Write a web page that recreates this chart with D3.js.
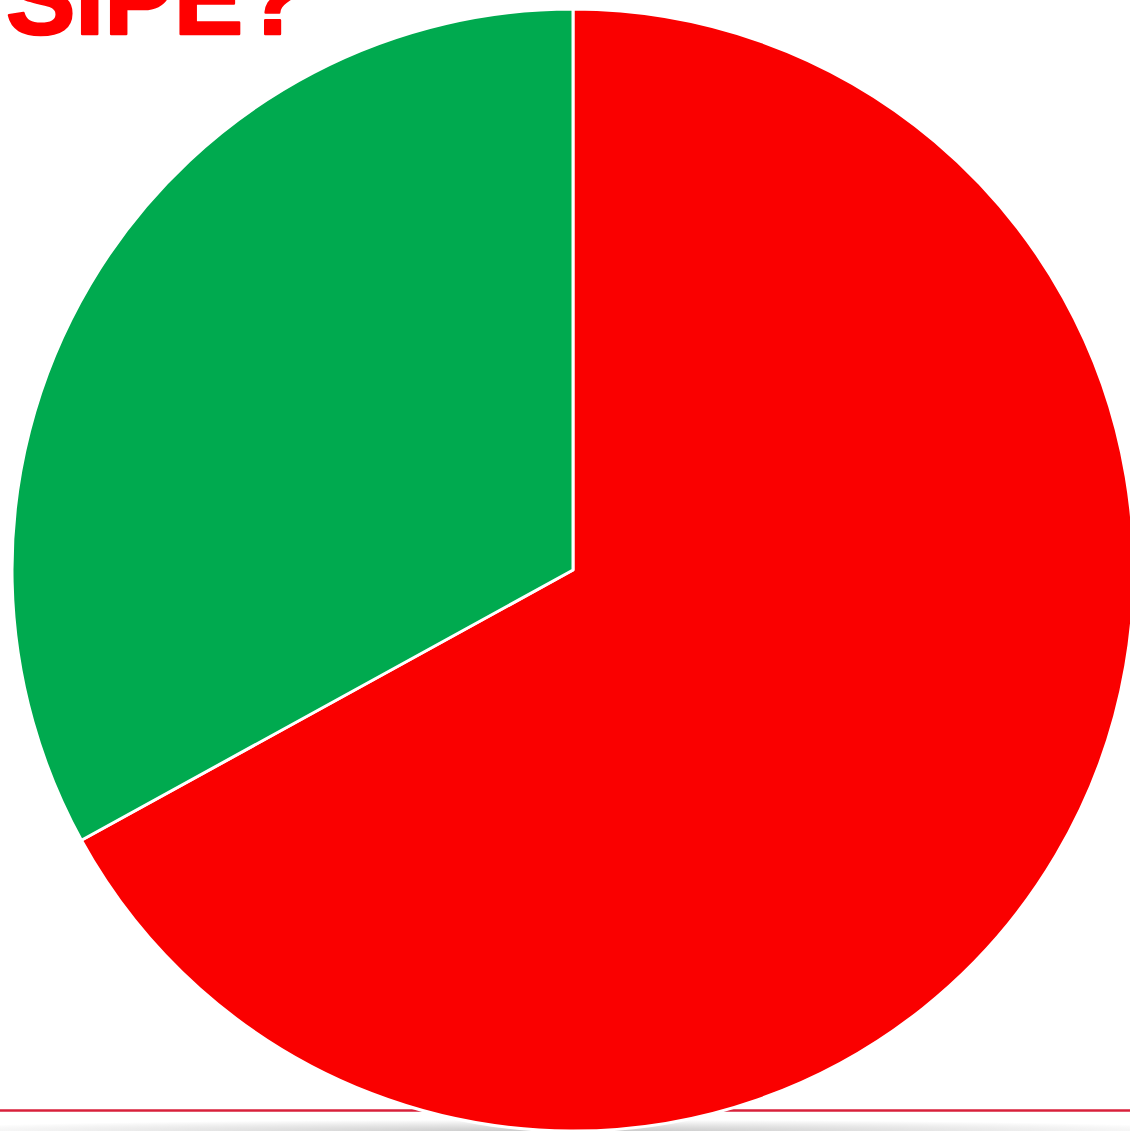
<!DOCTYPE html>
<html>
<head>
<meta charset="utf-8">
<script src="https://cdn.jsdelivr.net/npm/d3@7"></script>
<style>
  html, body { margin: 0; padding: 0; background: #fff; }
  svg { display: block; }
</style>
</head>
<body>
<div id="container"></div>
<script>
// data
const categories = ['No', 'Sí']
const values = [67, 33]
const colors = ['#fa0000', '#00aa4f']
const title = 'SIPE?'

const w = 1130
const h = 1131
const cx = 573
const cy = 570
const radius = 561

const svg = d3.select('#container')
  .append('svg')
  .attr('width', w)
  .attr('height', h)

const defs = svg.append('defs')
const grad = defs.append('radialGradient')
  .attr('id', 'shadow')
  .attr('cx', '50%').attr('cy', '100%')
  .attr('r', '60%')
grad.append('stop').attr('offset', '0%').attr('stop-color', '#c8c8c8')
grad.append('stop').attr('offset', '100%').attr('stop-color', '#ffffff')

//shadow strip under the rule
svg.append('rect')
  .attr('x', 0)
  .attr('y', 1112)
  .attr('width', w)
  .attr('height', h - 1112)
  .attr('fill', 'url(#shadow)')

//red rule
svg.append('line')
  .attr('x1', 0)
  .attr('x2', w)
  .attr('y1', 1110.5)
  .attr('y2', 1110.5)
  .attr('stroke', '#d8213b')
  .attr('stroke-width', 2.5)

//PIE
const pie = d3.pie().sort(null).value(d => d)
const arc = d3.arc().innerRadius(0).outerRadius(radius)

const g = svg.append('g')
  .attr('transform', `translate(${cx},${cy})`)

g.selectAll('path')
  .data(pie(values))
  .enter()
  .append('path')
  .attr('d', arc)
  .attr('fill', (d, i) => colors[i])
  .attr('stroke', '#fff')
  .attr('stroke-width', 3)
  .attr('stroke-linejoin', 'round')

//title, cut off at top like the slide it came from
svg.append('text')
  .attr('x', 6)
  .attr('y', 34)
  .attr('font-family', 'Liberation Sans, Arial, sans-serif')
  .attr('font-weight', 'bold')
  .attr('font-size', 104)
  .attr('fill', '#ff0000')
  .attr('stroke', '#ff0000')
  .attr('stroke-width', 2.5)
  .attr('stroke-linejoin', 'round')
  .text(title)
</script>
</body>
</html>
